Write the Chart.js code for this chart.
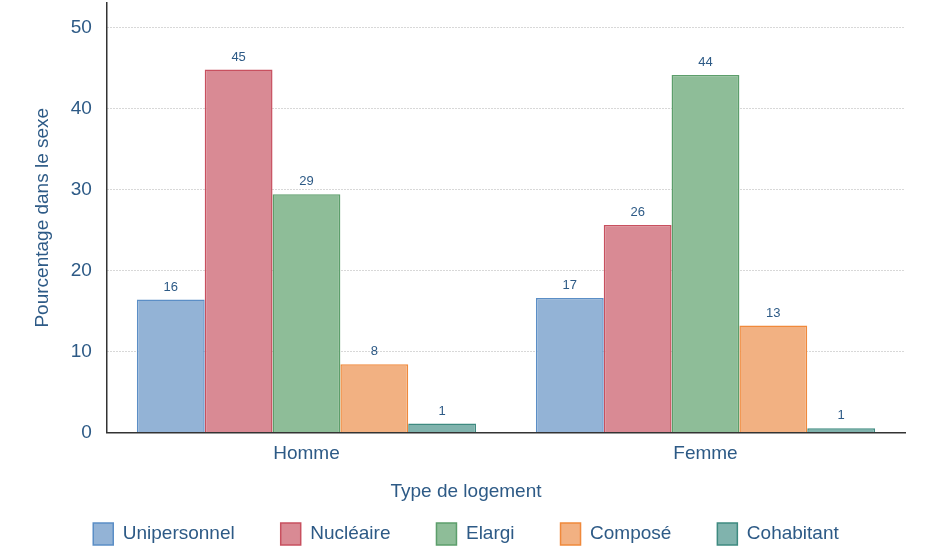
<!DOCTYPE html>
<html>
<head>
<meta charset="utf-8">
<script src="https://cdn.jsdelivr.net/npm/chart.js@4.4.1/dist/chart.umd.min.js"></script>
<style>
  html, body { margin: 0; padding: 0; background: #fff; }
  .chart-wrap { width: 930px; height: 548px; }
</style>
</head>
<body>
<div class="chart-wrap"><canvas id="logementChart"></canvas></div>
<script>
// Data
const categories = ["Homme", "Femme"];
const seriesNames = ["Unipersonnel", "Nucléaire", "Elargi", "Composé", "Cohabitant"];
const unipersonnel = [16.4, 16.6];
const nucleaire = [44.8, 25.6];
const elargi = [29.4, 44.1];
const compose = [8.4, 13.2];
const cohabitant = [1.1, 0.5];
const yTicks = [0, 10, 20, 30, 40, 50];

const textColor = "#2d5a86";
const fontFamily = "'Liberation Sans', Arial, sans-serif";
const fillColors = ["#93b3d6", "#d98a94", "#8ebd98", "#f2b182", "#80b3ad"];
const borderColors = ["#5b8ec6", "#c8505f", "#5c9e6b", "#f0893b", "#3e8a80"];
const legendPad = 46;
const legendShift = 35;

let seriesValues = [unipersonnel, nucleaire, elargi, compose, cohabitant];

// Value labels above bars
const barLabels = {
  id: "barLabels",
  afterDatasetsDraw(chart) {
    const ctx = chart.ctx;
    ctx.save();
    ctx.fillStyle = textColor;
    ctx.font = "13px " + fontFamily;
    ctx.textAlign = "center";
    ctx.textBaseline = "bottom";
    chart.data.datasets.forEach(function (ds, i) {
      chart.getDatasetMeta(i).data.forEach(function (bar, j) {
        ctx.fillText(Math.round(ds.data[j]), bar.x, bar.y - 6);
      });
    });
    ctx.restore();
  },
};

// Move legend row up (labels.padding also spaces the items)
const legendMove = {
  id: "legendMove",
  afterLayout(chart) {
    chart.legend.top -= legendShift;
  },
};

let ctx = document.getElementById("logementChart").getContext("2d");
let data = {
  labels: categories,
  datasets: seriesNames.map(function (name, i) {
    return {
      label: name,
      data: seriesValues[i],
      backgroundColor: fillColors[i],
      borderColor: borderColors[i],
      borderWidth: 1.5,
      barPercentage: 1,
      categoryPercentage: 0.85,
    };
  }),
};

let options = {
  responsive: true,
  maintainAspectRatio: false,
  animation: false,
  layout: {
    padding: { left: 27, right: 25, top: 3, bottom: 0 },
  },
  plugins: {
    // x axis title, centred on the whole canvas like the original
    title: {
      display: true,
      position: "bottom",
      weight: 500,
      text: "Type de logement",
      color: textColor,
      font: { size: 19, family: fontFamily, weight: "normal" },
      padding: { top: 5, bottom: 9 },
    },
    legend: {
      position: "bottom",
      maxHeight: 36,
      labels: {
        color: textColor,
        font: { size: 19, family: fontFamily },
        boxWidth: 20,
        boxHeight: 22,
        padding: legendPad,
      },
    },
    tooltip: { enabled: false },
  },
  scales: {
    x: {
      ticks: {
        color: textColor,
        font: { size: 19, family: fontFamily },
        padding: 10,
      },
      grid: { display: false, drawTicks: false },
      border: { color: "#333", width: 1.5 },
    },
    y: {
      min: 0,
      max: 53,
      afterBuildTicks(scale) {
        scale.ticks = yTicks.map(function (v) {
          return { value: v };
        });
      },
      afterFit(scale) {
        // top tick is not at the top edge, no overflow room needed
        scale.paddingTop = 0;
        scale.paddingBottom = 0;
      },
      ticks: {
        color: textColor,
        font: { size: 19, family: fontFamily },
        padding: 15,
      },
      grid: {
        drawTicks: false,
        color: function (c) {
          return c.tick && c.tick.value === 0 ? "rgba(0,0,0,0)" : "#b0b0b0";
        },
        lineWidth: 1,
      },
      border: { color: "#333", width: 1.5, dash: [1, 2] },
      title: {
        display: true,
        text: "Pourcentage dans le sexe",
        color: textColor,
        font: { size: 19, family: fontFamily },
        padding: { top: 4, bottom: 2 },
      },
    },
  },
};

let logementChart = new Chart(ctx, {
  type: "bar",
  data: data,
  options: options,
  plugins: [barLabels, legendMove],
});
</script>
</body>
</html>
